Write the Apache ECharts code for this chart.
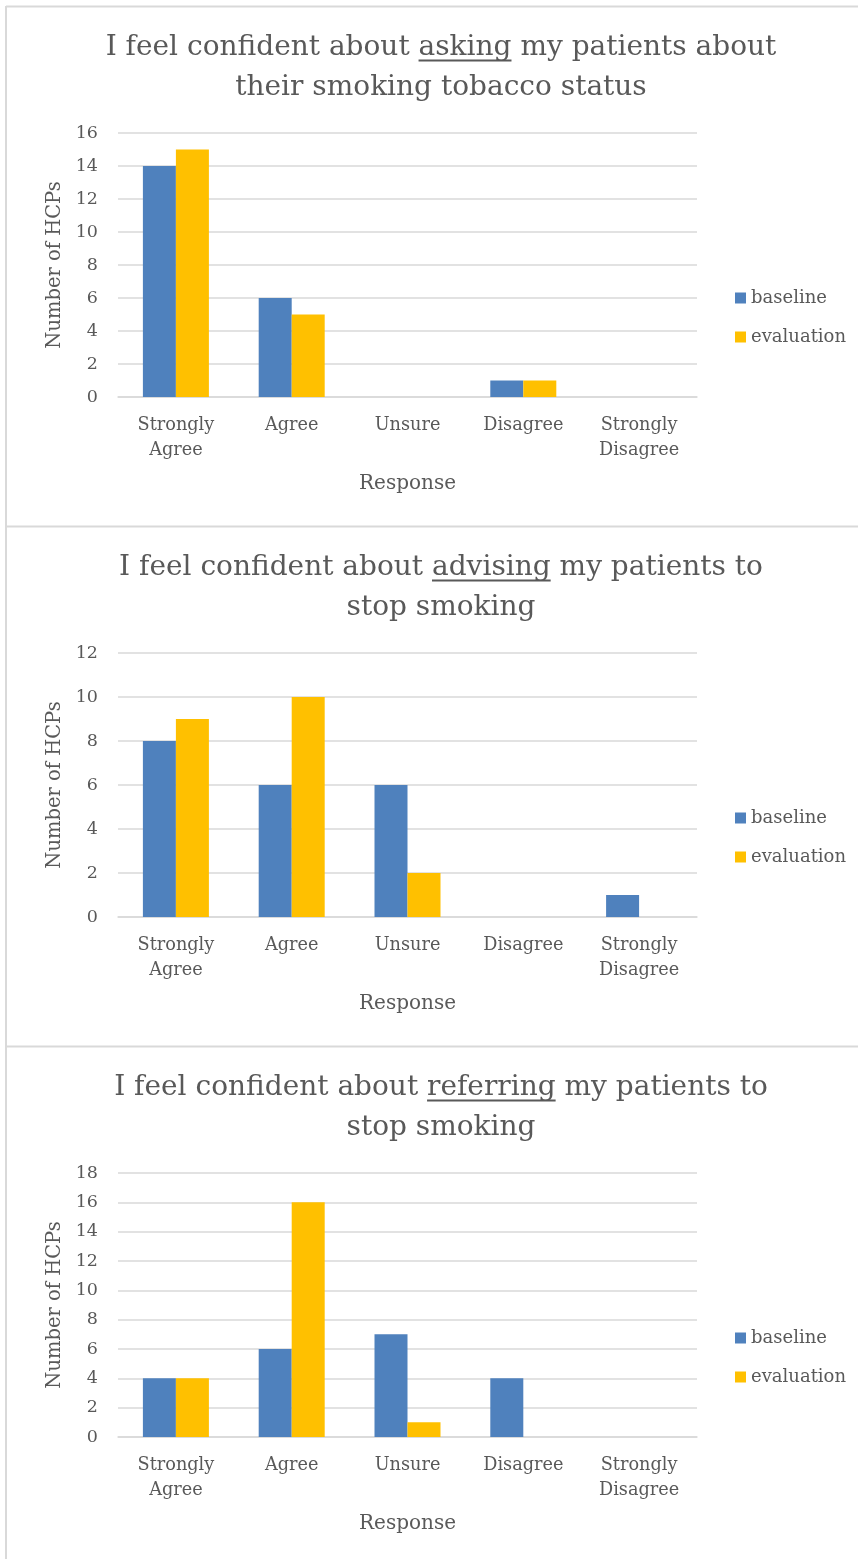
<!DOCTYPE html>
<html>
<head>
<meta charset="utf-8">
<script src="https://cdn.jsdelivr.net/npm/echarts@6/dist/echarts.min.js"></script>
<style>
html,body{margin:0;padding:0;background:#fff;}
#chart{width:858px;height:1559px;}
</style>
</head>
<body>
<div id="chart"></div>
<script>
// ---- data ----
const categories = ['Strongly\nAgree', 'Agree', 'Unsure', 'Disagree', 'Strongly\nDisagree'];
const seriesNames = ['baseline', 'evaluation'];

const askBaseline = [14, 6, 0, 1, 0];
const askEvaluation = [15, 5, 0, 1, 0];

const adviseBaseline = [8, 6, 6, 0, 1];
const adviseEvaluation = [9, 10, 2, 0, 0];

const referBaseline = [4, 6, 7, 4, 0];
const referEvaluation = [4, 16, 1, 0, 0];

const yMaxes = [16, 12, 18];
const yInterval = 2;

const titleLines = [
  ['I feel confident about ', 'asking', ' my patients about', 'their smoking tobacco status'],
  ['I feel confident about ', 'advising', ' my patients to', 'stop smoking'],
  ['I feel confident about ', 'referring', ' my patients to', 'stop smoking']
];
const xAxisName = 'Response';
const yAxisName = 'Number of HCPs';

// ---- styling ----
const FONT = '"DejaVu Serif", serif';
const TXT = '#595959';
const GRID = '#d9d9d9';
const COLORS = ['#4f81bd', '#ffc000'];
const PANEL_H = 520;
const PANEL_TOP = 7;
const TITLE_SIZE = 28;
const TITLE_CX = 441;

const panelData = [
  [askBaseline, askEvaluation],
  [adviseBaseline, adviseEvaluation],
  [referBaseline, referEvaluation]
];

const chart = echarts.init(document.getElementById('chart'), null, {renderer: 'canvas'});

const measure = (function () {
  const c = document.createElement('canvas').getContext('2d');
  return function (text, size) {
    c.font = size + 'px ' + FONT;
    return c.measureText(text).width;
  };
})();

const grids = [], xAxes = [], yAxes = [], series = [], titles = [], legends = [], graphics = [];

panelData.forEach(function (pd, i) {
  const T = PANEL_TOP + PANEL_H * i;
  grids.push({left: 118, right: 161, top: T + 126, height: 264, containLabel: false});
  xAxes.push({
    type: 'category', gridIndex: i, data: categories,
    axisLine: {show: true, lineStyle: {color: GRID, width: 1.5}},
    axisTick: {show: false},
    axisLabel: {color: TXT, fontFamily: FONT, fontSize: 17.7, lineHeight: 25, margin: 16, interval: 0},
    name: xAxisName, nameLocation: 'middle', nameGap: 77,
    nameTextStyle: {color: TXT, fontFamily: FONT, fontSize: 20}
  });
  yAxes.push({
    type: 'value', gridIndex: i, min: 0, max: yMaxes[i], interval: yInterval,
    axisLine: {show: false}, axisTick: {show: false},
    splitLine: {lineStyle: {color: GRID, width: 1.5}},
    axisLabel: {color: TXT, fontFamily: FONT, fontSize: 17.5, margin: 20},
    name: yAxisName, nameLocation: 'middle', nameGap: 51,
    nameTextStyle: {color: TXT, fontFamily: FONT, fontSize: 19.5}
  });
  pd.forEach(function (vals, s) {
    series.push({
      type: 'bar', name: seriesNames[s], xAxisIndex: i, yAxisIndex: i, data: vals,
      itemStyle: {color: COLORS[s]}, barGap: '0%', barCategoryGap: '43%'
    });
  });
  const tl = titleLines[i];
  titles.push({
    text: tl[0] + tl[1] + tl[2] + '\n' + tl[3],
    left: TITLE_CX, top: T + 21, textAlign: 'center', padding: 0,
    textStyle: {color: TXT, fontFamily: FONT, fontSize: TITLE_SIZE, fontWeight: 'normal', lineHeight: 40}
  });
  legends.push({
    data: seriesNames, orient: 'vertical', left: 735, top: T + 281, padding: 0,
    itemWidth: 11, itemHeight: 11, itemGap: 19, icon: 'rect',
    textStyle: {color: TXT, fontFamily: FONT, fontSize: 18, lineHeight: 20}
  });
  // underline under the emphasised word
  const lineW = measure(tl[0] + tl[1] + tl[2], TITLE_SIZE);
  const x0 = TITLE_CX - lineW / 2 + measure(tl[0], TITLE_SIZE);
  const w = measure(tl[1], TITLE_SIZE);
  graphics.push({
    type: 'line', silent: true,
    shape: {x1: x0, y1: T + 53.5, x2: x0 + w, y2: T + 53.5},
    style: {stroke: TXT, lineWidth: 2}
  });
  // panel border top
  graphics.push({
    type: 'line', silent: true,
    shape: {x1: 6, y1: T - 0.5, x2: 858, y2: T - 0.5},
    style: {stroke: GRID, lineWidth: 2}
  });
});
graphics.push({
  type: 'line', silent: true,
  shape: {x1: 6, y1: PANEL_TOP - 1, x2: 6, y2: 1559},
  style: {stroke: GRID, lineWidth: 2}
});

chart.setOption({
  animation: false,
  color: COLORS,
  title: titles,
  legend: legends,
  grid: grids,
  xAxis: xAxes,
  yAxis: yAxes,
  series: series,
  graphic: graphics
});
</script>
</body>
</html>
